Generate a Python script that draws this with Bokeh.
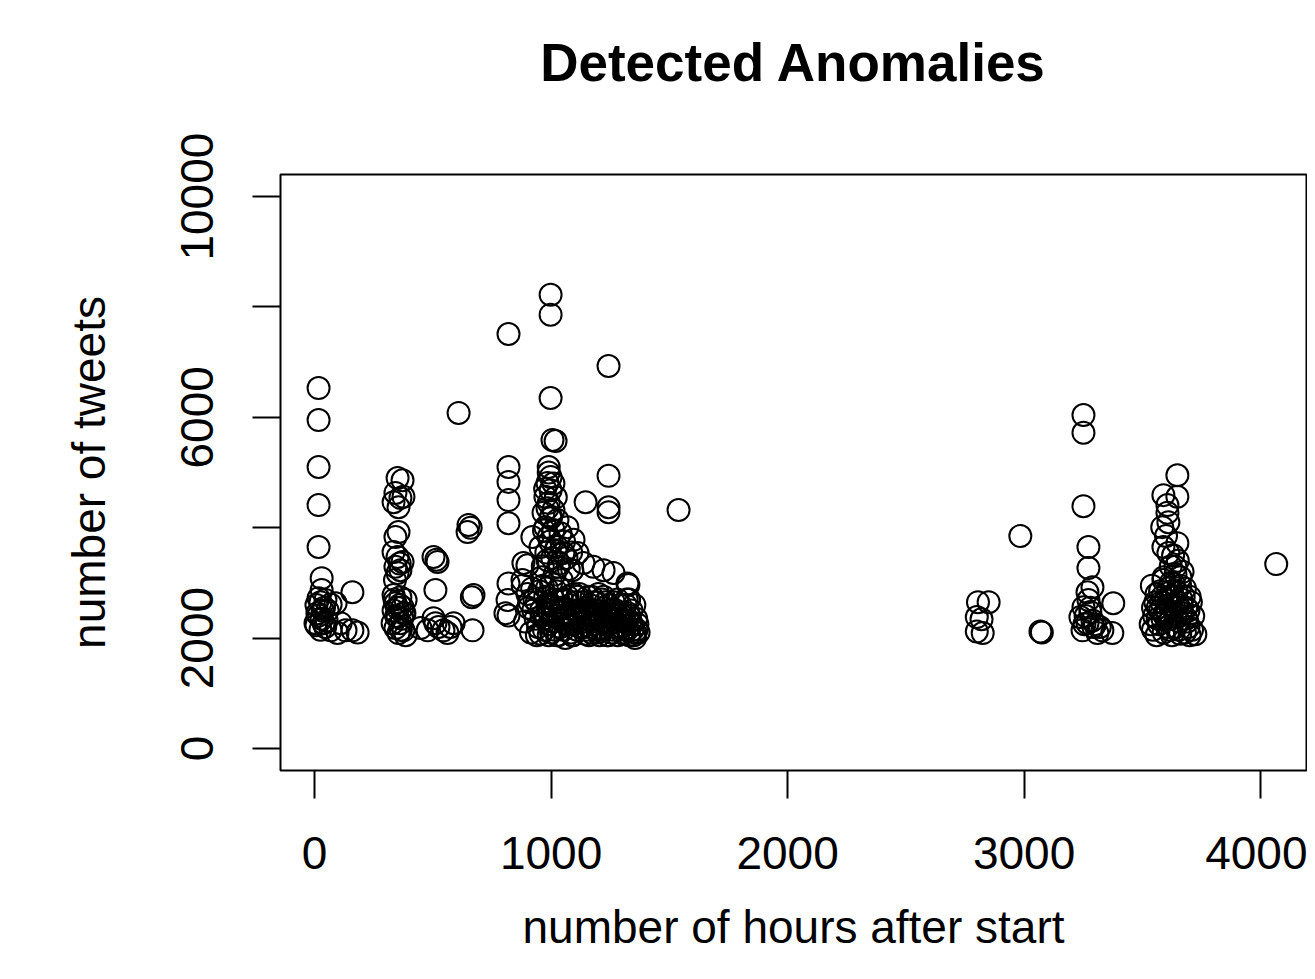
from bokeh.plotting import figure
from bokeh.models import Range1d, FixedTicker, Title
from bokeh.embed import file_html
from bokeh.resources import INLINE

# ---- data (hours after start, number of tweets) ----
hours_a = [17, 17, 17, 17, 17, 30, 30, 17, 46, 8, 34, 68, 17, 51, 8, 89, 160,
           38, 68, 110, 131, 160, 182, 97, 4,
           25, 40, 12, 30, 55, 45, 25]
tweets_a = [6530, 5950, 5100, 4410, 3650, 3085, 2870, 2720, 2690, 2600, 2500, 2610, 2410, 2320, 2230, 2630, 2830,
            2270, 2140, 2270, 2140, 2140, 2100, 2090, 2270,
            2650, 2550, 2450, 2350, 2500, 2200, 2150]

hours_b = [351, 372, 342, 363, 334, 376, 355, 355, 342, 334, 351, 372, 342, 363, 351,
           334, 363, 385, 342, 372, 334, 376, 351, 330, 363, 342, 376, 355, 385,
           345, 360, 370, 338, 365, 350, 380, 340, 360]
tweets_b = [4900, 4860, 4630, 4540, 4460, 4560, 4370, 3920, 3830, 3560, 3470, 3380, 3290, 3230, 3180,
            2780, 2740, 2690, 2630, 2560, 2500, 2450, 2380, 2270, 2270, 2180, 2140, 2090, 2050,
            2400, 2600, 2350, 2700, 2150, 2550, 2450, 3050, 3350]

hours_c = [503, 520, 515, 511, 478, 511, 524, 545, 503, 575, 588, 562, 668, 651, 647, 660,
           672, 665, 609, 448]
tweets_c = [3470, 3380, 3420, 2870, 2140, 2270, 2200, 2140, 2360, 2200, 2270, 2090, 2140, 4050, 3920, 4000,
            2780, 2740, 6080, 2180]

hours_d = [998, 998, 820, 1243, 998, 1006, 1019, 820, 820, 820, 820, 1243, 1146, 1243, 1243, 1539,
           990, 998, 985, 998, 976, 990, 1010, 968, 998, 1027, 976, 1010, 1040, 990, 1069, 1095,
           921, 955, 1019, 1052, 1112, 985, 900, 1031, 1090, 1137, 1222, 1179, 1323,
           820, 816, 807, 820, 883, 879, 1327, 1264,
           880, 900, 910, 925, 935, 945, 955, 965, 975, 985, 995, 1005, 1015, 1025, 1035, 1045,
           1055, 1065, 1075, 1085, 1095, 1105, 1115, 1125, 1135, 1145, 1155, 1165, 1175, 1185,
           1195, 1205, 1215, 1225, 1235, 1245, 1255, 1265, 1275, 1285, 1295, 1305, 1315, 1325,
           1335, 1345, 1355, 1365,
           890, 915, 930, 950, 960, 970, 990, 1000, 1010, 1020, 1040, 1050, 1060, 1070, 1080,
           1100, 1110, 1120, 1130, 1140, 1150, 1160, 1170, 1180, 1190, 1200, 1210, 1220, 1230,
           1240, 1250, 1260, 1270, 1280, 1290, 1300, 1310, 1320, 1340, 1350, 1360,
           940, 1000, 1030, 1090, 1160, 1200, 1240, 1300, 1330, 1370, 1355, 1330,
           905, 920, 940, 958, 972, 982, 992, 1002, 1012, 1022, 1032, 1042, 1052, 1062, 1072,
           1082, 1092, 1102, 1112, 1122, 1132, 1142, 1152, 1162, 1172, 1182, 1192, 1202, 1212,
           1222, 1232, 1242, 1252, 1262, 1272, 1282, 1292, 1302, 1312, 1322, 1332, 1342, 1352, 1362,
           965, 980, 995, 1005, 1015, 1025, 1035, 1045, 1055, 1065, 970, 1000, 1020, 985, 960,
           1075, 1085, 1010, 990, 975]
tweets_d = [8220, 7860, 7510, 6930, 6350, 5590, 5570, 5100, 4830, 4500, 4080, 4940, 4460, 4370, 4280, 4320,
            5100, 4920, 4810, 4680, 4560, 4450, 4320, 4270, 4170, 4140, 4010, 3960, 3900, 3830, 4010, 3780,
            3830, 3650, 3590, 3540, 3540, 3410, 3320, 3290, 3230, 3360, 3230, 3290, 2990,
            2990, 2690, 2450, 2410, 3360, 3050, 2960, 3180,
            2950, 2800, 2650, 2500, 2350, 2200, 2080, 2950, 2750, 2600, 2450, 2300, 2150, 2050, 2900, 2700,
            2550, 2400, 2250, 2100, 2800, 2650, 2500, 2350, 2200, 2080, 2750, 2600, 2450, 2300,
            2150, 2050, 2700, 2550, 2400, 2250, 2100, 2650, 2500, 2350, 2200, 2080, 2600, 2450,
            2300, 2150, 2100, 2250,
            2300, 2100, 2700, 2850, 2400, 2150, 2050, 3000, 2700, 2500, 2200, 2400, 2000, 2750, 2600,
            2350, 2150, 2800, 2500, 2300, 2450, 2200, 2100, 2650, 2500, 2800, 2300, 2150, 2650,
            2050, 2500, 2350, 2200, 2700, 2450, 2300, 2150, 2700, 2500, 2050, 2350,
            2050, 2100, 2050, 2050, 2050, 2100, 2050, 2100, 2050, 2100, 2000, 2700,
            2550, 2900, 2650, 2500, 2350, 2900, 2250, 2600, 2400, 2850, 2350, 2550, 2150, 2700, 2450,
            2300, 2050, 2500, 2750, 2200, 2650, 2450, 2150, 2400, 2750, 2250, 2650, 2450, 2150,
            2750, 2250, 2600, 2350, 2150, 2450, 2050, 2600, 2450, 2300, 2150, 2400, 2250, 2600, 2150,
            3300, 3550, 3750, 3450, 3150, 3650, 3350, 3050, 3750, 3450, 3950, 4200, 4550, 4350, 3100,
            3250, 3550, 4800, 5000, 4700]

hours_e = [2805, 2850, 2800, 2820, 2800, 2825, 3069, 3075, 2984]
tweets_e = [2650, 2650, 2380, 2340, 2120, 2090, 2120, 2100, 3850]

hours_f = [3251, 3251, 3251, 3272, 3272, 3289, 3268, 3272, 3251, 3280, 3238, 3268, 3293, 3247,
           3310, 3331, 3373, 3377, 3289,
           3260, 3300, 3280, 3255, 3320]
tweets_f = [6040, 5720, 4390, 3650, 3270, 2920, 2830, 2690, 2560, 2470, 2380, 2270, 2200, 2140,
            2090, 2140, 2090, 2630, 2320,
            2400, 2250, 2550, 2250, 2200]

hours_g = [3648, 3589, 3648, 3606, 3606, 3584, 3648, 3589, 3610, 3640, 3589, 3631, 3661,
           3540, 3560, 3580, 3600, 3620, 3640, 3660, 3680, 3700, 3550, 3570, 3590, 3610, 3630,
           3650, 3670, 3690, 3710, 3545, 3565, 3585, 3605, 3625, 3645, 3665, 3685, 3560, 3600,
           3640, 3680, 3620, 3660, 3575, 3615, 3655, 3695, 3535, 3590, 3640, 3670, 3705,
           3724, 3700, 4066,
           3555, 3575, 3595, 3615, 3635, 3655, 3675, 3695, 3715, 3545, 3565, 3585, 3605, 3625,
           3645, 3665, 3685, 3620, 3630, 3600, 3610, 3650]
tweets_g = [4950, 4590, 4560, 4410, 4270, 4010, 3720, 3650, 3540, 3290, 3050, 2990, 3100,
            2950, 2800, 2650, 2500, 2350, 2200, 2080, 2900, 2750, 2400, 2250, 2100, 2900, 2750,
            2600, 2450, 2300, 2150, 2150, 2550, 2350, 2200, 2050, 2850, 2700, 2550, 2050, 2700,
            2400, 2100, 3000, 2950, 2500, 2600, 2300, 2500, 2250, 3100, 3150, 3200, 2650,
            2070, 2050, 3340,
            2650, 2850, 2400, 2150, 2550, 2150, 2750, 2200, 2400, 2550, 2350, 2750, 2450, 2850,
            2650, 2500, 2350, 3300, 3500, 3850, 4100, 3400]

hours = hours_a + hours_b + hours_c + hours_d + hours_e + hours_f + hours_g
tweets = tweets_a + tweets_b + tweets_c + tweets_d + tweets_e + tweets_f + tweets_g

x_ticks = [0, 1000, 2000, 3000, 4000]
y_ticks = [0, 2000, 4000, 6000, 8000, 10000]
y_labels = {0: "0", 2000: "2000", 4000: "", 6000: "6000", 8000: "", 10000: "10000"}
title_text = "Detected Anomalies"

FONT = "Liberation Sans"

p = figure(width=1307, height=971, output_backend="svg", toolbar_location=None,
           x_range=Range1d(-144, 4194), y_range=Range1d(-400, 10400),
           min_border_left=280, min_border_right=1, min_border_top=174, min_border_bottom=201,
           title=title_text)

p.title.align = "center"
p.title.text_font = FONT
p.title.text_font_size = "53px"
p.title.text_font_style = "bold"
p.title.text_color = "black"
p.title.standoff = 0

# empty spacer title that sits between the main title and the box
spacer = Title(text=" ", text_font_size="1px", standoff=80)
p.add_layout(spacer, "above")

p.scatter(hours, tweets, marker="circle", size=22, fill_color=None,
          line_color="black", line_width=2)

p.grid.visible = False
p.outline_line_color = "black"
p.outline_line_width = 2
p.background_fill_color = "white"
p.border_fill_color = "white"

p.xaxis.ticker = FixedTicker(ticks=x_ticks)
p.yaxis.ticker = FixedTicker(ticks=y_ticks)
p.yaxis.major_label_overrides = y_labels
for ax in (p.xaxis[0], p.yaxis[0]):
    ax.axis_line_color = None
    ax.major_tick_out = 28
    ax.major_tick_in = 0
    ax.major_tick_line_width = 2
    ax.major_tick_line_color = "black"
    ax.minor_tick_line_color = None
    ax.major_label_text_font = FONT
    ax.major_label_text_font_size = "46px"
    ax.major_label_text_color = "black"
    ax.axis_label_text_font = FONT
    ax.axis_label_text_font_size = "46px"
    ax.axis_label_text_font_style = "normal"
    ax.axis_label_text_color = "black"

p.yaxis.major_label_orientation = "vertical"
p.xaxis.major_label_standoff = 38
p.yaxis.major_label_standoff = 39
p.xaxis.axis_label = "number of hours after start"
p.yaxis.axis_label = "number of tweets"
p.xaxis.axis_label_standoff = 29
p.yaxis.axis_label_standoff = 64

open("out.html", "w").write(file_html(p, INLINE))
